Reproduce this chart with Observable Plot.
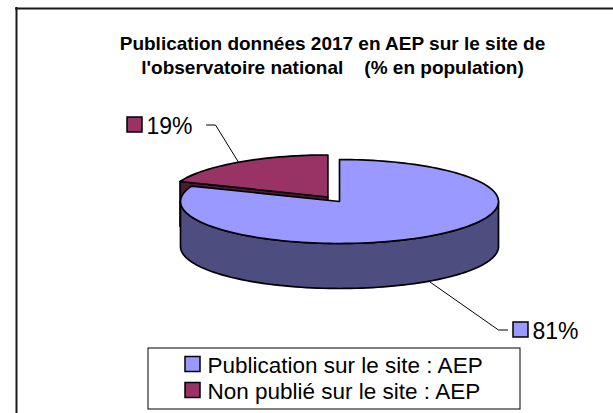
<!DOCTYPE html>
<html><head><meta charset="utf-8">
<script src="https://cdn.jsdelivr.net/npm/d3@7"></script>
<script src="https://cdn.jsdelivr.net/npm/@observablehq/plot@0.6"></script>
<style>
html,body{margin:0;padding:0;background:#fff;overflow:hidden;}
svg text{white-space:pre;}
</style></head><body><div id="chart"></div>
<script>
// ---- data ----
const categories = ["Publication sur le site : AEP", "Non publié sur le site : AEP"];
const values = [81, 19];
const topColors = ["#9999FF", "#993366"];
const sideColors = ["#4D4D80", "#4D1A33"];
const titleLines = ["Publication données 2017 en AEP sur le site de", "l'observatoire national    (% en population)"];

// ---- layout ----
const W = 613, H = 413;
const FONT = "'Liberation Sans', Arial, sans-serif";
const pie = {cx: 339, cy: 201, rx: 159, ry: 42, depth: 45, explode: [0, 0.13]};
const frame = {x: 16, y: 8};
const title = {x: 332, y: 49.5, gap: 24, size: 19};
const labelLayout = [ {lx: 507, ly: 329.5, bx: 513, side: 1}, {lx: 206, ly: 124.5, bx: 127, side: -1} ];
const legend = {x1: 148, x2: 520, y1: 348, y2: 409, sx: 185, row0: 364, rowGap: 26, tx: 207};
const sw = 15, labelSize = 23, legendSize = 22.5;

// ---- geometry from values ----
const total = d3.sum(values);
let acc = 0;
const slices = values.map((v, i) => {
  const a0 = acc / total * 2 * Math.PI; acc += v;
  const a1 = acc / total * 2 * Math.PI;
  const am = (a0 + a1) / 2, e = pie.explode[i];
  return {i, v, a0, a1, am, cx: pie.cx + e * pie.rx * Math.sin(am), cy: pie.cy - e * pie.ry * Math.cos(am)};
});
const pt = (s, a, drop = 0) => ({x: s.cx + pie.rx * Math.sin(a), y: s.cy - pie.ry * Math.cos(a) + drop});
function arc(s, a0, a1, drop = 0) {
  const k = Math.max(2, Math.ceil(Math.abs(a1 - a0) / (2 * Math.PI) * 180));
  return d3.range(k + 1).map(j => pt(s, a0 + (a1 - a0) * j / k, drop));
}
const polys = [];
[...slices].sort((a, b) => a.cy - b.cy).forEach(s => {
  const c = {x: s.cx, y: s.cy}, cb = {x: s.cx, y: s.cy + pie.depth};
  if (Math.sin(s.a0) < -1e-9) polys.push({fill: sideColors[s.i], pts: [c, pt(s, s.a0), pt(s, s.a0, pie.depth), cb]});
  if (Math.sin(s.a1) > 1e-9) polys.push({fill: sideColors[s.i], pts: [c, pt(s, s.a1), pt(s, s.a1, pie.depth), cb]});
  const lo = Math.max(s.a0, Math.PI / 2), hi = Math.min(s.a1, 3 * Math.PI / 2);
  if (lo < hi) polys.push({fill: sideColors[s.i], pts: [...arc(s, lo, hi), ...arc(s, hi, lo, pie.depth)]});
  polys.push({fill: topColors[s.i], pts: [c, ...arc(s, s.a0, s.a1)]});
});

// leaders & labels
const leaders = slices.map(s => {
  const L = labelLayout[s.i];
  const anchor = pt(s, s.am, Math.cos(s.am) < 0 ? pie.depth : 0);
  return [{...anchor, k: s.i}, {x: L.lx - 9 * L.side, y: L.ly, k: s.i}, {x: L.lx, y: L.ly, k: s.i}];
}).flat();
const labelSw = slices.map(s => { const L = labelLayout[s.i]; return {x1: L.bx, x2: L.bx + sw, y1: L.ly - sw / 2, y2: L.ly + sw / 2, fill: topColors[s.i]}; });
const labelTx = slices.map(s => { const L = labelLayout[s.i]; return {x: L.bx + sw + 4, y: L.ly + 8.5, t: `${s.v}%`}; });
const legSw = categories.map((c, i) => ({x1: legend.sx, x2: legend.sx + sw, y1: legend.row0 + i * legend.rowGap - sw / 2, y2: legend.row0 + i * legend.rowGap + sw / 2, fill: topColors[i]}));
const legTx = categories.map((c, i) => ({x: legend.tx, y: legend.row0 + i * legend.rowGap + 8, t: c}));
const titleData = titleLines.map((t, i) => ({x: title.x, y: title.y + i * title.gap, t}));

const marks = [
  Plot.ruleX([frame.x], {y1: frame.y - 1, y2: H, stroke: "#1a1a1a", strokeWidth: 2}),
  Plot.ruleY([frame.y], {x1: frame.x - 1, x2: W, stroke: "#1a1a1a", strokeWidth: 2}),
  Plot.text(titleData, {x: "x", y: "y", text: "t", fontSize: title.size, fontWeight: "bold", textAnchor: "middle", lineAnchor: "bottom", fill: "#000"}),
  ...polys.map(p => Plot.line(p.pts, {x: "x", y: "y", fill: p.fill, stroke: "#000", strokeWidth: 1.7, strokeLinejoin: "round", curve: "linear-closed"})),
  Plot.line(leaders, {x: "x", y: "y", z: "k", stroke: "#000", strokeWidth: 1}),
  Plot.rect(labelSw, {x1: "x1", x2: "x2", y1: "y1", y2: "y2", fill: d => d.fill, stroke: "#000", strokeWidth: 1.5}),
  Plot.text(labelTx, {x: "x", y: "y", text: "t", fontSize: labelSize, textAnchor: "start", lineAnchor: "bottom", fill: "#000"}),
  Plot.rect([legend], {x1: "x1", x2: "x2", y1: "y1", y2: "y2", fill: "none", stroke: "#000", strokeWidth: 1}),
  Plot.rect(legSw, {x1: "x1", x2: "x2", y1: "y1", y2: "y2", fill: d => d.fill, stroke: "#000", strokeWidth: 1.5}),
  Plot.text(legTx, {x: "x", y: "y", text: "t", fontSize: legendSize, textAnchor: "start", lineAnchor: "bottom", fill: "#000"})
];

const chart = Plot.plot({
  width: W, height: H, margin: 0,
  x: {domain: [0, W], range: [0, W], axis: null},
  y: {domain: [0, H], range: [0, H], axis: null},
  style: {fontFamily: FONT, background: "#fff"},
  marks
});
document.getElementById("chart").appendChild(chart);
</script></body></html>
